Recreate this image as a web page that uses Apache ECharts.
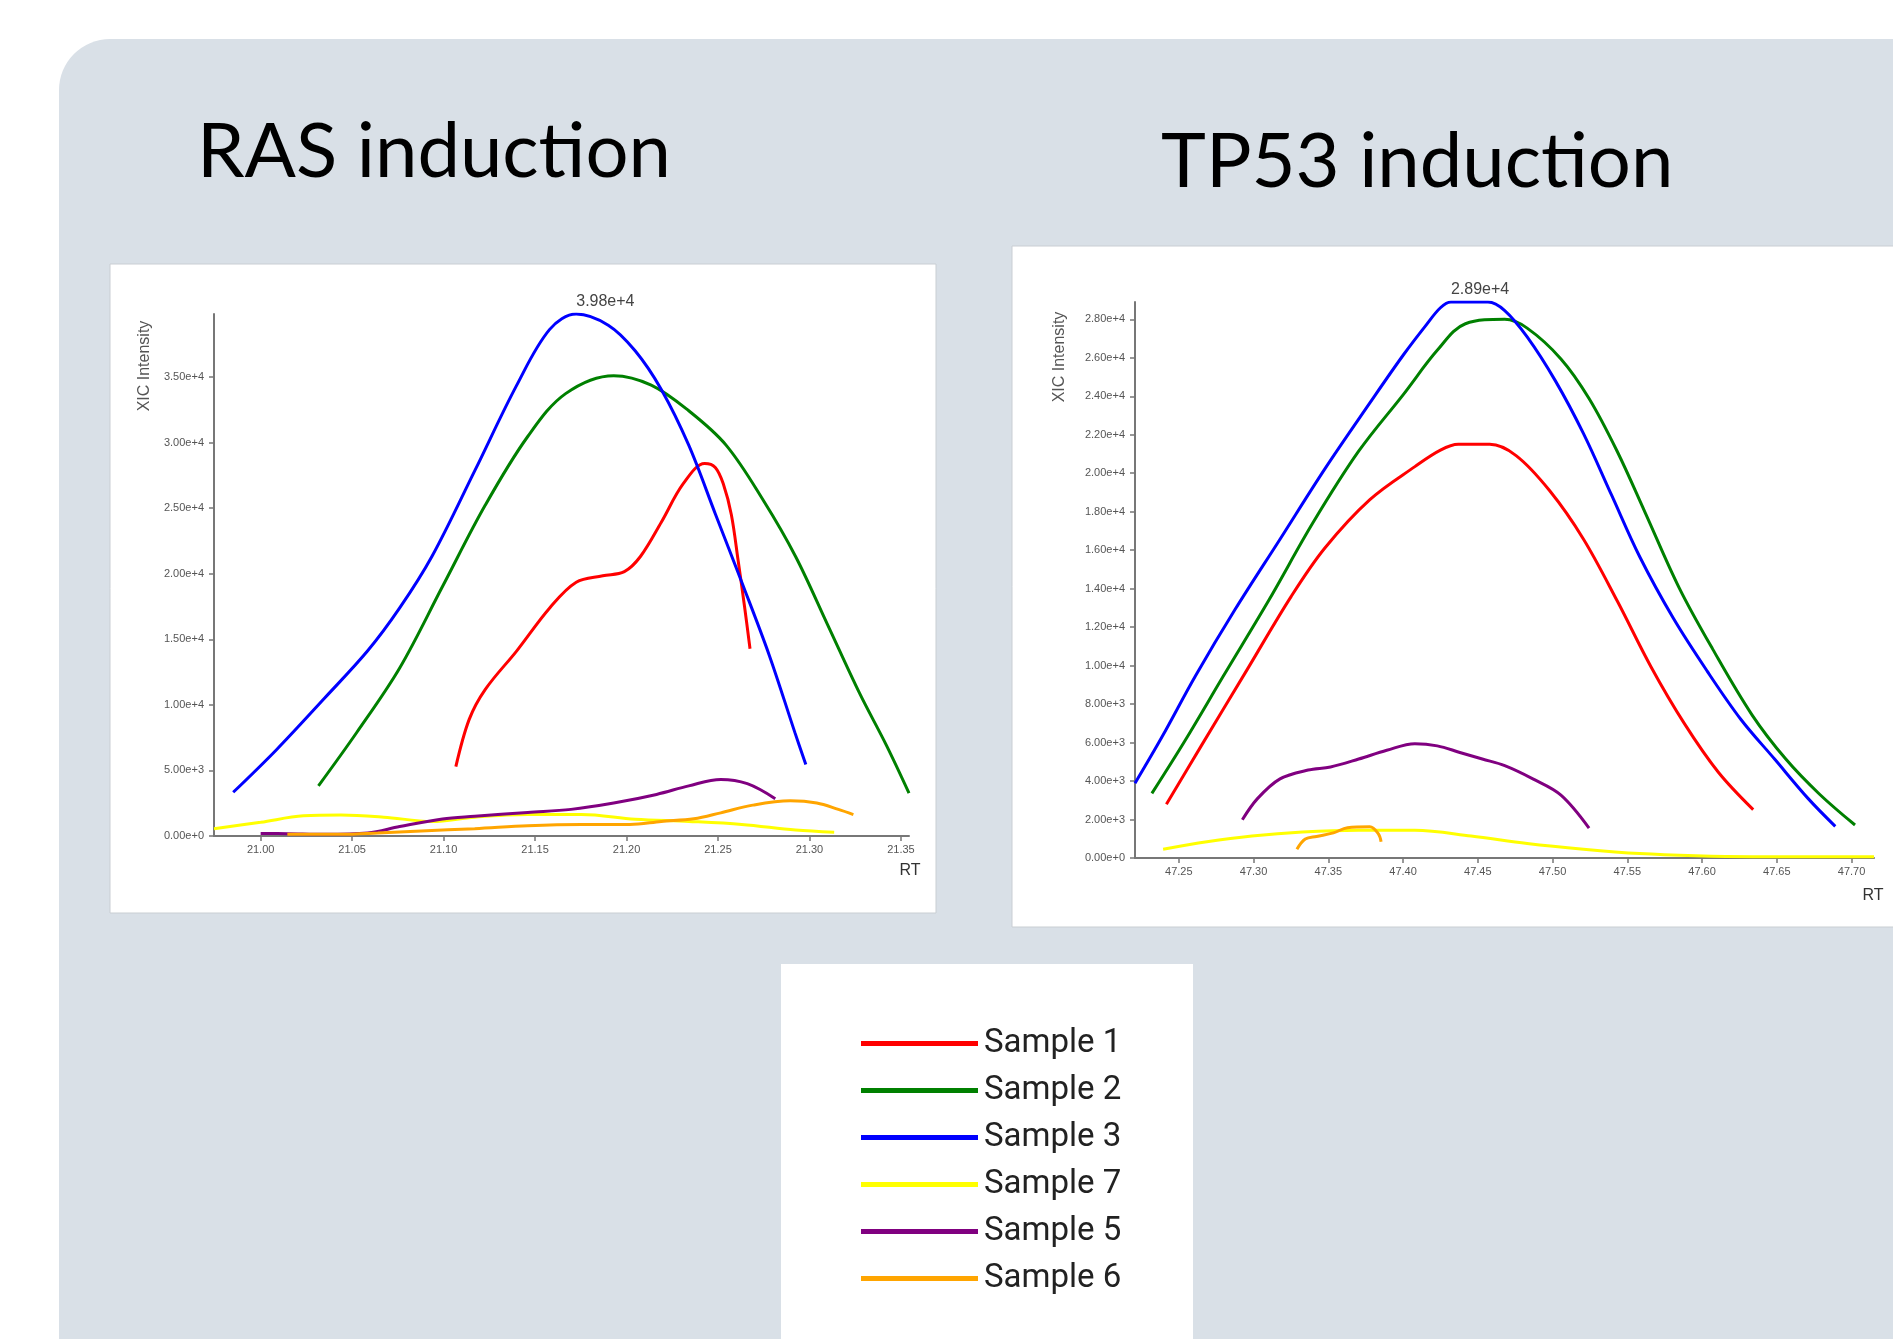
<!DOCTYPE html>
<html>
<head>
<meta charset="utf-8">
<script src="https://cdn.jsdelivr.net/npm/echarts@6/dist/echarts.min.js"></script>
<style>
html,body{margin:0;padding:0;background:#ffffff;}
#chart{width:1893px;height:1339px;}
</style>
</head>
<body>
<div id="chart"></div>
<script>
// ---------- Data ----------
const seriesNames = ['Sample 1', 'Sample 2', 'Sample 3', 'Sample 7', 'Sample 5', 'Sample 6'];
const seriesColors = ['#ff0000', '#008000', '#0000ff', '#ffff00', '#800080', '#ffa500'];
const panelTitles = ['RAS induction', 'TP53 induction'];
const axisNameY = 'XIC Intensity';
const axisNameX = 'RT';

// RAS induction: [RT, XIC intensity]
const ras_s1 = [[21.1067,5290],[21.114,8890],[21.1228,11180],[21.140,14120],[21.158,17390],[21.1725,19350],[21.187,19840],[21.1988,20160],[21.2076,21310],[21.219,23920],[21.231,26860],[21.2427,28400],[21.2485,28100],[21.2530,26800],[21.2573,24500],[21.2610,21000],[21.2645,17500],[21.2675,14280]];
const ras_s2 = [[21.0316,3824],[21.0526,7910],[21.076,12810],[21.0994,19020],[21.1228,25230],[21.146,30460],[21.1667,33730],[21.193,35100],[21.2135,34380],[21.234,32420],[21.2544,29800],[21.2749,25560],[21.2924,21310],[21.31,16080],[21.3275,10850],[21.342,6930],[21.3544,3270]];
const ras_s3 = [[20.985,3333],[21.0088,6600],[21.035,10520],[21.0585,14120],[21.076,17390],[21.0936,21310],[21.117,27840],[21.140,34380],[21.158,38630],[21.1725,39800],[21.19,38950],[21.2047,37000],[21.219,34050],[21.234,29800],[21.2485,24575],[21.263,19350],[21.278,13790],[21.292,7900],[21.298,5460]];
const ras_s7 = [[20.9745,555],[21.0,1046],[21.0234,1536],[21.0439,1600],[21.0673,1438],[21.0936,1111],[21.117,1438],[21.146,1634],[21.1754,1634],[21.2047,1275],[21.234,1111],[21.263,882],[21.2924,458],[21.3135,294]];
const ras_s5 = [[21.0,200],[21.015,180],[21.035,130],[21.0585,230],[21.076,720],[21.0994,1300],[21.117,1500],[21.146,1800],[21.1696,2030],[21.193,2516],[21.2164,3170],[21.234,3824],[21.2515,4314],[21.266,3987],[21.2813,2843]];
const ras_s6 = [[21.0146,130],[21.0439,130],[21.064,230],[21.0877,390],[21.117,555],[21.146,784],[21.1754,880],[21.2018,880],[21.219,1110],[21.2368,1307],[21.2515,1765],[21.269,2353],[21.2895,2680],[21.304,2516],[21.3158,2026],[21.324,1634]];

// TP53 induction: [RT, XIC intensity]
const tp53_s1 = [[47.2417,2789],[47.265,5829],[47.2951,9714],[47.3252,13600],[47.3477,16114],[47.3778,18629],[47.4079,20343],[47.4250,21200],[47.4370,21500],[47.4580,21500],[47.4756,20914],[47.4981,19086],[47.5207,16571],[47.5432,13371],[47.5658,9943],[47.5883,6971],[47.6109,4457],[47.6342,2514]];
const tp53_s2 = [[47.232,3360],[47.2538,6057],[47.28,9486],[47.31,13371],[47.3402,17486],[47.3703,21143],[47.4004,24114],[47.423,26400],[47.4417,27771],[47.468,28000],[47.483,27543],[47.5056,25943],[47.5244,23886],[47.5432,21143],[47.562,17943],[47.5846,14057],[47.6071,10857],[47.6335,7429],[47.656,5143],[47.6786,3314],[47.7023,1714]];
const tp53_s3 = [[47.2207,3886],[47.2387,6286],[47.2613,9486],[47.2876,12914],[47.3177,16571],[47.3477,20229],[47.3778,23657],[47.4004,26171],[47.4154,27700],[47.4250,28600],[47.432,28900],[47.4568,28900],[47.468,28457],[47.483,27086],[47.5019,24800],[47.5207,22057],[47.5395,18857],[47.5583,15657],[47.5808,12457],[47.6034,9714],[47.626,7200],[47.6485,5143],[47.671,3086],[47.6891,1646]];
const tp53_s7 = [[47.2395,457],[47.2688,846],[47.2989,1143],[47.3327,1349],[47.3703,1440],[47.4079,1440],[47.4455,1143],[47.483,754],[47.5207,457],[47.5583,229],[47.5959,114],[47.6335,69],[47.671,69],[47.715,69]];
const tp53_s5 = [[47.2925,1989],[47.3026,3086],[47.3177,4114],[47.3365,4571],[47.3515,4731],[47.3703,5143],[47.3891,5600],[47.4079,5943],[47.4229,5829],[47.438,5486],[47.453,5143],[47.468,4800],[47.4868,4114],[47.5056,3269],[47.5244,1554]];
const tp53_s6 = [[47.329,457],[47.3346,983],[47.3421,1120],[47.3534,1303],[47.3628,1577],[47.3778,1623],[47.3835,1257],[47.3853,846]];

const rasData = [ras_s1, ras_s2, ras_s3, ras_s7, ras_s5, ras_s6];
const tp53Data = [tp53_s1, tp53_s2, tp53_s3, tp53_s7, tp53_s5, tp53_s6];

// ---------- Chart ----------
const chart = echarts.init(document.getElementById('chart'), null, {renderer: 'canvas'});

const tickFont = {fontFamily: 'Liberation Sans', fontSize: 11, color: '#555'};

function xAxisCfg(gridIndex, splitNumber) {
  return {
    type: 'value', gridIndex: gridIndex, min: 'dataMin', max: 'dataMax', splitNumber: splitNumber,
    axisLine: {show: true, onZero: false, lineStyle: {color: '#777', width: 2}},
    axisTick: {show: true, length: 5, lineStyle: {color: '#777', width: 1.5}},
    axisLabel: Object.assign({margin: 8, showMinLabel: false, showMaxLabel: false,
      formatter: v => v.toFixed(2)}, tickFont),
    splitLine: {show: false}
  };
}
function yAxisCfg(gridIndex, splitNumber) {
  return {
    type: 'value', gridIndex: gridIndex, min: 0, max: 'dataMax', splitNumber: splitNumber,
    axisLine: {show: true, lineStyle: {color: '#777', width: 2}},
    axisTick: {show: true, length: 5, lineStyle: {color: '#777', width: 1.5}},
    axisLabel: Object.assign({margin: 10, showMaxLabel: false,
      formatter: v => v.toExponential(2)}, tickFont),
    splitLine: {show: false}
  };
}

function makeSeries(dataList, gridIdx, peakOffset) {
  return dataList.map((d, i) => {
    const s = {
      name: seriesNames[i], type: 'line', xAxisIndex: gridIdx, yAxisIndex: gridIdx,
      data: d, smooth: 0.35, showSymbol: false, symbol: 'none',
      color: seriesColors[i],
      lineStyle: {width: 3, color: seriesColors[i]},
      emphasis: {disabled: true}, animation: false, z: 3
    };
    if (seriesNames[i] === 'Sample 3') {
      s.markPoint = {
        symbol: 'circle', symbolSize: 0, silent: true, animation: false,
        data: [{type: 'max'}],
        label: {show: true, position: 'top', distance: 4, align: 'left', offset: peakOffset,
          formatter: p => p.value.toExponential(2),
          fontFamily: 'Liberation Sans', fontSize: 16, color: '#444'}
      };
    }
    return s;
  });
}

const option = {
  backgroundColor: '#ffffff',
  animation: false,
  graphic: [
    {type: 'rect', z: -10, silent: true, shape: {x: 59, y: 39, width: 1900, height: 1360, r: [51, 0, 0, 0]}, style: {fill: '#d9e0e7'}},
    {type: 'rect', z: -9, silent: true, shape: {x: 110, y: 264, width: 826, height: 649}, style: {fill: '#ffffff', stroke: '#c9ced3', lineWidth: 1}},
    {type: 'rect', z: -9, silent: true, shape: {x: 1012, y: 246, width: 900, height: 681}, style: {fill: '#ffffff', stroke: '#c9ced3', lineWidth: 1}},
    {type: 'rect', z: -9, silent: true, shape: {x: 781, y: 964, width: 412, height: 400}, style: {fill: '#ffffff'}},
    {type: 'text', z: 5, silent: true, x: 197, y: 152, style: {text: panelTitles[0], font: '76px Lato', fill: '#000', textAlign: 'left', textVerticalAlign: 'middle'}},
    {type: 'text', z: 5, silent: true, x: 1161, y: 162, style: {text: panelTitles[1], font: '76px Lato', fill: '#000', textAlign: 'left', textVerticalAlign: 'middle'}},
    {type: 'text', z: 5, silent: true, x: 145, y: 366, rotation: Math.PI / 2, style: {text: axisNameY, font: '16px "Liberation Sans"', fill: '#555', textAlign: 'center', textVerticalAlign: 'middle'}},
    {type: 'text', z: 5, silent: true, x: 1060, y: 357, rotation: Math.PI / 2, style: {text: axisNameY, font: '16px "Liberation Sans"', fill: '#555', textAlign: 'center', textVerticalAlign: 'middle'}},
    {type: 'text', z: 5, silent: true, x: 910, y: 871, style: {text: axisNameX, font: '16px "Liberation Sans"', fill: '#333', textAlign: 'center', textVerticalAlign: 'middle'}},
    {type: 'text', z: 5, silent: true, x: 1873, y: 896, style: {text: axisNameX, font: '16px "Liberation Sans"', fill: '#333', textAlign: 'center', textVerticalAlign: 'middle'}}
  ],
  legend: {
    orient: 'vertical', left: 856, top: 1022, itemWidth: 117, itemHeight: 5, itemGap: 14,
    icon: 'rect', data: seriesNames, selectedMode: false,
    textStyle: {fontFamily: 'Roboto', fontSize: 33, lineHeight: 33, color: '#222', padding: [0, 0, 0, 1]}
  },
  grid: [
    {left: 214, top: 314, width: 695, height: 522, containLabel: false},
    {left: 1135, top: 302, width: 739, height: 556, containLabel: false}
  ],
  xAxis: [xAxisCfg(0, 8), xAxisCfg(1, 10)],
  yAxis: [yAxisCfg(0, 8), yAxisCfg(1, 14)],
  series: [].concat(makeSeries(rasData, 0, [0, 0]), makeSeries(tp53Data, 1, [0, 0]))
};

chart.setOption(option);
</script>
</body>
</html>
